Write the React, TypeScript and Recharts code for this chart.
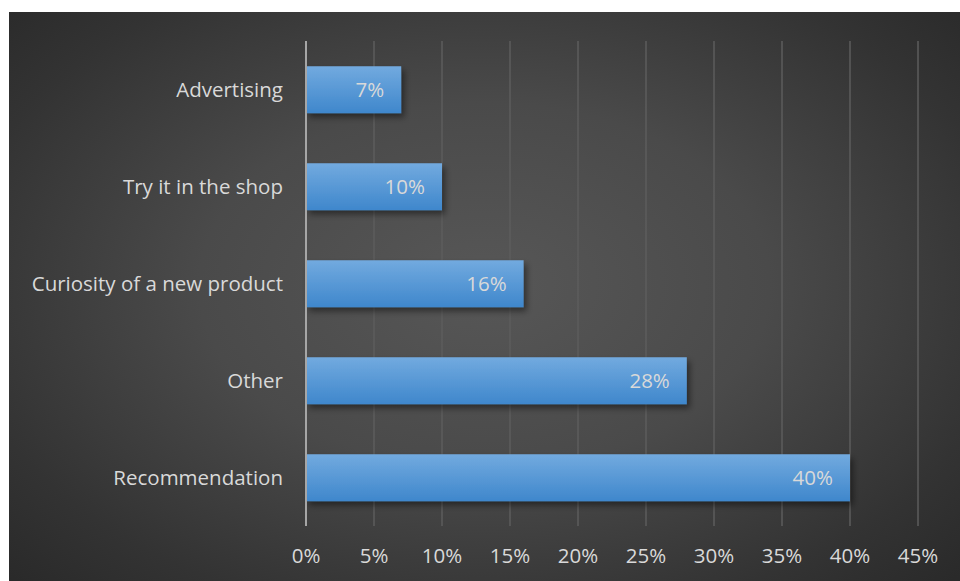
import { BarChart, Bar, XAxis, YAxis, CartesianGrid, LabelList } from "recharts";

const categories = [
  "Advertising",
  "Try it in the shop",
  "Curiosity of a new product",
  "Other",
  "Recommendation",
];
const shares = [7, 10, 16, 28, 40];
const xTicks = [0, 5, 10, 15, 20, 25, 30, 35, 40, 45];

const data = categories.map((name, i) => ({ name, value: shares[i] }));

const FONT = "'Open Sans', sans-serif";
const TEXT = "#d9d9d9";

export default function App() {
  return (
    <div
      style={{
        position: "absolute",
        left: 9,
        top: 12,
        width: 951,
        height: 569,
        background:
          "radial-gradient(ellipse 75% 80% at 50% 48%, #575757 0%, #4a4a4a 40%, #333333 75%, #262626 100%)",
        fontFamily: FONT,
      }}
    >
      <BarChart
        width={951}
        height={569}
        data={data}
        layout="vertical"
        margin={{ top: 29, right: 42, bottom: 0, left: 0 }}
        barCategoryGap="26%"
      >
        <defs>
          <linearGradient id="barFill" x1="0" y1="0" x2="0" y2="1">
            <stop offset="0%" stopColor="#72aadf" />
            <stop offset="100%" stopColor="#3f87cc" />
          </linearGradient>
          <filter id="barShadow" x="-5%" y="-20%" width="115%" height="160%">
            <feDropShadow dx="3" dy="4" stdDeviation="3" floodColor="#000" floodOpacity="0.45" />
          </filter>
        </defs>
        <CartesianGrid horizontal={false} stroke="#5c5c5c" strokeWidth={1.5} />
        <XAxis
          type="number"
          domain={[0, 45]}
          ticks={xTicks}
          tickFormatter={(v) => `${v}%`}
          axisLine={false}
          tickLine={false}
          height={55}
          tickMargin={16}
          tick={{ fill: TEXT, fontSize: 20.5, fontFamily: FONT }}
          interval={0}
        />
        <YAxis
          type="category"
          dataKey="name"
          width={297}
          axisLine={{ stroke: "#a6a6a6", strokeWidth: 2 }}
          tickLine={false}
          tickMargin={17}
          tick={{ fill: TEXT, fontSize: 20.5, fontFamily: FONT }}
          interval={0}
        />
        <Bar
          dataKey="value"
          fill="url(#barFill)"
          filter="url(#barShadow)"
          isAnimationActive={false}
        >
          <LabelList
            dataKey="value"
            position="insideRight"
            offset={17}
            formatter={(v: number) => `${v}%`}
            style={{ fill: TEXT, fontSize: 20.5, fontFamily: FONT }}
          />
        </Bar>
      </BarChart>
    </div>
  );
}
